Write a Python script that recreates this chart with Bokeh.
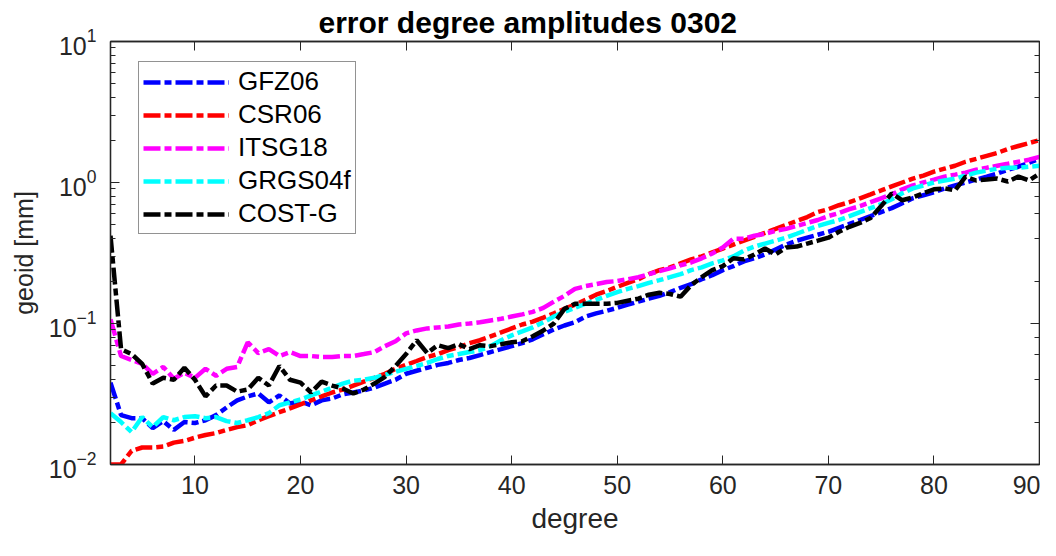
from bokeh.plotting import figure
from bokeh.models import (LogAxis, LinearAxis, FixedTicker, LogTicker, Legend,
                          LegendItem, ColumnDataSource, CustomJSTickFormatter)
from bokeh.embed import file_html
from bokeh.resources import INLINE

title_text = "error degree amplitudes 0302"
x_label = "degree"
y_label = "geoid [mm]"
x_ticks = [10, 20, 30, 40, 50, 60, 70, 80, 90]

degree = list(range(2, 91))

gfz06 = [0.0381, 0.0224, 0.0213, 0.0213, 0.0181, 0.0203, 0.0176, 0.0200, 0.0197, 0.0206,
         0.0224, 0.0254, 0.0285, 0.0304, 0.0319, 0.0276, 0.0309, 0.0271, 0.0280, 0.0263,
         0.0285, 0.0294, 0.0314, 0.0324, 0.0335, 0.0351, 0.0375, 0.0399, 0.0440, 0.0462,
         0.0485, 0.0509, 0.0525, 0.0551, 0.0569, 0.0597, 0.0627, 0.0658, 0.0691, 0.0725,
         0.0773, 0.0838, 0.0908, 0.0968, 0.102, 0.112, 0.118, 0.123, 0.129, 0.136,
         0.143, 0.150, 0.157, 0.167, 0.179, 0.190, 0.206, 0.220, 0.239, 0.255,
         0.276, 0.290, 0.309, 0.335, 0.363, 0.387, 0.406, 0.426, 0.447, 0.477,
         0.509, 0.542, 0.578, 0.617, 0.658, 0.713, 0.773, 0.812, 0.852, 0.908,
         0.953, 1.000, 1.049, 1.101, 1.156, 1.233, 1.294, 1.380, 1.472]

csr06 = [0.0100, 0.0100, 0.0125, 0.0132, 0.0132, 0.0134, 0.0143, 0.0147, 0.0155, 0.0162,
         0.0167, 0.0176, 0.0184, 0.0190, 0.0206, 0.0220, 0.0235, 0.0250, 0.0267, 0.0285,
         0.0304, 0.0324, 0.0340, 0.0363, 0.0387, 0.0412, 0.0440, 0.0477, 0.0509, 0.0542,
         0.0578, 0.0607, 0.0647, 0.0680, 0.0725, 0.0761, 0.0811, 0.0865, 0.0923, 0.0984,
         0.103, 0.110, 0.118, 0.127, 0.136, 0.147, 0.160, 0.170, 0.182, 0.194,
         0.206, 0.224, 0.239, 0.250, 0.267, 0.285, 0.299, 0.319, 0.340, 0.363,
         0.387, 0.412, 0.440, 0.469, 0.500, 0.534, 0.569, 0.617, 0.647, 0.690,
         0.725, 0.773, 0.824, 0.879, 0.938, 1.000, 1.066, 1.119, 1.194, 1.253,
         1.315, 1.403, 1.472, 1.545, 1.621, 1.729, 1.815, 1.904, 1.998]

itsg18 = [0.107, 0.0588, 0.0551, 0.0517, 0.0440, 0.0492, 0.0406, 0.0447, 0.0412, 0.0477,
          0.0426, 0.0477, 0.0492, 0.0736, 0.0617, 0.0658, 0.0588, 0.0627, 0.0588, 0.0588,
          0.0578, 0.0578, 0.0588, 0.0588, 0.0607, 0.0627, 0.0691, 0.0748, 0.0851, 0.0893,
          0.0923, 0.0938, 0.0953, 0.0984, 0.100, 0.102, 0.105, 0.108, 0.112, 0.116,
          0.121, 0.129, 0.143, 0.157, 0.176, 0.184, 0.190, 0.197, 0.200, 0.206,
          0.213, 0.224, 0.235, 0.246, 0.259, 0.271, 0.290, 0.314, 0.346, 0.399,
          0.399, 0.419, 0.433, 0.454, 0.469, 0.492, 0.517, 0.542, 0.578, 0.607,
          0.647, 0.680, 0.725, 0.773, 0.824, 0.894, 0.953, 1.000, 1.049, 1.101,
          1.137, 1.175, 1.233, 1.273, 1.315, 1.358, 1.403, 1.449, 1.520]

grgs04f = [0.0231, 0.0200, 0.0170, 0.0217, 0.0184, 0.0217, 0.0206, 0.0217, 0.0220, 0.0213,
           0.0217, 0.0203, 0.0197, 0.0206, 0.0217, 0.0231, 0.0263, 0.0276, 0.0289, 0.0309,
           0.0329, 0.0351, 0.0375, 0.0393, 0.0399, 0.0412, 0.0433, 0.0454, 0.0477, 0.0500,
           0.0525, 0.0560, 0.0588, 0.0607, 0.0627, 0.0647, 0.0691, 0.0761, 0.0824, 0.0879,
           0.0938, 0.102, 0.112, 0.121, 0.129, 0.138, 0.147, 0.157, 0.167, 0.176,
           0.184, 0.194, 0.203, 0.213, 0.224, 0.239, 0.250, 0.267, 0.280, 0.299,
           0.329, 0.351, 0.369, 0.387, 0.406, 0.433, 0.462, 0.492, 0.517, 0.542,
           0.578, 0.617, 0.658, 0.702, 0.761, 0.838, 0.908, 0.953, 1.000, 1.033,
           1.066, 1.119, 1.175, 1.213, 1.253, 1.273, 1.273, 1.294, 1.315]

cost_g = [0.419, 0.0658, 0.0607, 0.0517, 0.0375, 0.0412, 0.0399, 0.0485, 0.0399, 0.0304,
          0.0363, 0.0363, 0.0329, 0.0340, 0.0412, 0.0363, 0.0500, 0.0399, 0.0381, 0.0324,
          0.0387, 0.0363, 0.0346, 0.0319, 0.0340, 0.0375, 0.0419, 0.0500, 0.0607, 0.0761,
          0.0617, 0.0702, 0.0669, 0.0713, 0.0658, 0.0702, 0.0691, 0.0713, 0.0736, 0.0748,
          0.0811, 0.0893, 0.100, 0.127, 0.138, 0.138, 0.138, 0.138, 0.140, 0.145,
          0.150, 0.160, 0.165, 0.162, 0.155, 0.187, 0.213, 0.239, 0.255, 0.290,
          0.285, 0.309, 0.340, 0.309, 0.346, 0.351, 0.369, 0.387, 0.406, 0.447,
          0.485, 0.517, 0.560, 0.680, 0.838, 0.748, 0.785, 0.838, 0.894, 0.908,
          0.879, 1.101, 1.033, 1.049, 1.066, 1.016, 1.101, 1.033, 1.156]

series_names = ["GFZ06", "CSR06", "ITSG18", "GRGS04f", "COST-G"]
series_values = [gfz06, csr06, itsg18, grgs04f, cost_g]
series_colors = ["#0000ff", "#ff0000", "#ff00ff", "#00ffff", "#000000"]

FONT = "Liberation Sans"
AX = "#262626"

p = figure(width=1040, height=540, x_range=(2, 90), y_range=(0.01, 10),
           y_axis_type="log", output_backend="svg", toolbar_location=None,
           min_border_left=110, min_border_right=1, min_border_top=40,
           min_border_bottom=76, background_fill_color="white",
           border_fill_color="white")

p.title.text = title_text
p.title.text_font = FONT
p.title.text_font_size = "30px"
p.title.text_font_style = "bold"
p.title.align = "left"
p.title.offset = 208
p.title.standoff = 6
p.title.text_color = "#000000"

p.xgrid.visible = False
p.ygrid.visible = False
p.outline_line_color = AX
p.outline_line_width = 1.3

def style_axis(ax, labels=True):
    ax.axis_line_color = AX
    ax.axis_line_width = 1.3
    ax.major_tick_line_color = AX
    ax.minor_tick_line_color = AX
    ax.major_tick_in = 9
    ax.major_tick_out = 0
    ax.minor_tick_in = 5
    ax.minor_tick_out = 0
    ax.major_label_text_font = FONT
    ax.major_label_text_color = AX
    ax.axis_label_text_font = FONT
    ax.axis_label_text_font_style = "normal"
    ax.axis_label_text_color = AX
    if labels:
        ax.major_label_text_font_size = "25px"
    else:
        ax.formatter = CustomJSTickFormatter(code="return '';")
        ax.major_label_standoff = 0
        ax.axis_label = None

xa = p.xaxis[0]
xa.ticker = FixedTicker(ticks=x_ticks, minor_ticks=[])
style_axis(xa)
xa.axis_label = x_label
xa.axis_label_text_font_size = "28px"
xa.major_label_standoff = 11
xa.axis_label_standoff = 6

ya = p.yaxis[0]
style_axis(ya)
ya.axis_label = y_label
ya.axis_label_text_font_size = "25px"
ya.major_label_standoff = 14
ya.axis_label_standoff = 8

top = LinearAxis(ticker=FixedTicker(ticks=x_ticks, minor_ticks=[]))
style_axis(top, labels=False)
p.add_layout(top, "above")

right = LogAxis(ticker=LogTicker())
style_axis(right, labels=False)
p.add_layout(right, "right")

items = []
for name, vals, col in zip(series_names, series_values, series_colors):
    src = ColumnDataSource(data=dict(x=degree, y=vals))
    r = p.line("x", "y", source=src, line_color=col, line_width=4.5,
               line_dash="17 4 7 4")
    items.append(LegendItem(label=name, renderers=[r]))

legend = Legend(items=items, location=(28, 230), margin=0, padding=4,
                spacing=2, glyph_width=86, glyph_height=20, label_height=20,
                label_standoff=9, label_text_font=FONT,
                label_text_font_size="26px", label_text_color="#000000",
                border_line_color=AX, border_line_width=1.3,
                background_fill_color="white", background_fill_alpha=1.0)
p.add_layout(legend)

open("out.html", "w").write(file_html(p, INLINE))
